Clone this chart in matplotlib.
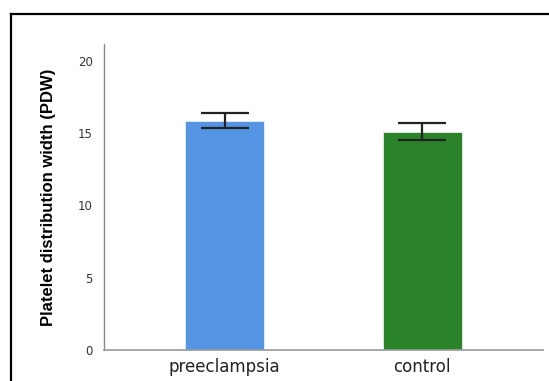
import matplotlib.pyplot as plt
from matplotlib.lines import Line2D

groups = ["preeclampsia", "control"]
means = [15.85, 15.05]
err_low = [0.50, 0.52]
err_high = [0.52, 0.62]
bar_colors = ["#5594e3", "#2a8229"]
yticks = [0, 5, 10, 15, 20]

fig = plt.figure(figsize=(5.49, 3.81), dpi=100)
ax = fig.add_axes([104 / 549, 1 - 350 / 381, (543 - 104) / 549, (350 - 44) / 381])

x = range(len(groups))
ax.bar(x, means, width=0.40, color=bar_colors, edgecolor="#e8f0e8", linewidth=0.6, zorder=2)
ax.errorbar(x, means, yerr=[err_low, err_high], fmt="none", ecolor="#222222",
            elinewidth=1.6, capsize=17.5, capthick=1.6, zorder=3)

ax.set_xlim(-0.61, 1.61)
ax.set_ylim(0, 21.15)
ax.set_yticks(yticks)
ax.set_xticks(list(x))
ax.set_xticklabels(groups, fontsize=12, color="#222222")
ax.tick_params(axis="y", length=0, pad=8, labelsize=8.5, labelcolor="#333333")
ax.tick_params(axis="x", length=0, pad=6)

for side in ["top", "right"]:
    ax.spines[side].set_visible(False)
ax.spines["left"].set_color("#888888")
ax.spines["bottom"].set_color("#999999")
ax.spines["left"].set_linewidth(1.0)
ax.spines["bottom"].set_linewidth(1.2)

ax.set_ylabel("Platelet distribution width (PDW)", fontsize=12, fontweight="bold",
              family=["Liberation Sans Narrow", "Liberation Sans", "DejaVu Sans"],
              labelpad=16)

# outer frame of the original figure (only top and left edges are visible)
top = 1 - 14 / 381
left = 11 / 549
fig.lines.append(Line2D([left, 1.0], [top, top], transform=fig.transFigure,
                        color="black", linewidth=1.6))
fig.lines.append(Line2D([left, left], [0.0, top], transform=fig.transFigure,
                        color="black", linewidth=1.6))

fig.savefig("out.png", dpi=100)
